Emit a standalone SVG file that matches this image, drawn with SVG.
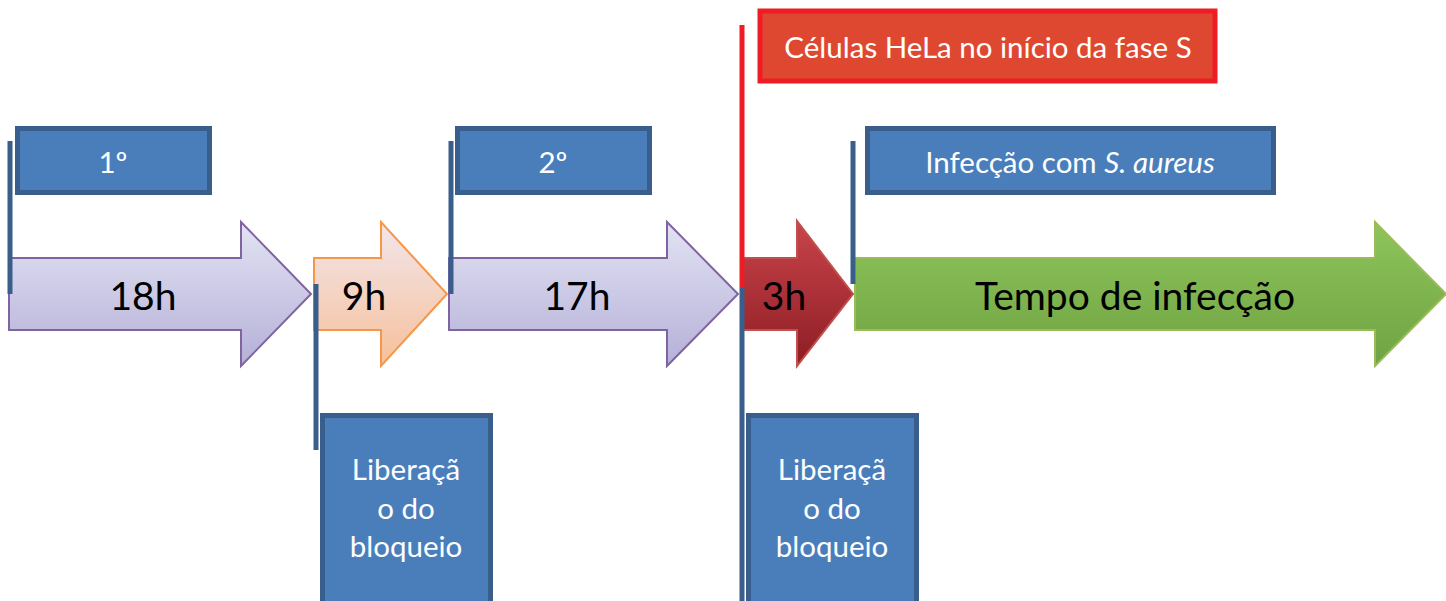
<svg xmlns="http://www.w3.org/2000/svg" width="1446" height="601" viewBox="0 0 1446 601">
<defs>
<linearGradient id="gPurple" x1="0" y1="0" x2="0" y2="1"><stop offset="0" stop-color="#e2e3f3"/><stop offset="1" stop-color="#b5b0d8"/></linearGradient>
<linearGradient id="gOrange" x1="0" y1="0" x2="0" y2="1"><stop offset="0" stop-color="#f2e6ec"/><stop offset="1" stop-color="#f6c09a"/></linearGradient>
<linearGradient id="gRed" x1="0" y1="0" x2="0" y2="1"><stop offset="0" stop-color="#c9444b"/><stop offset="1" stop-color="#8e1d24"/></linearGradient>
<linearGradient id="gGreen" x1="0" y1="0" x2="0" y2="1"><stop offset="0" stop-color="#8dc55a"/><stop offset="1" stop-color="#70a243"/></linearGradient>
</defs>
<style>
.box{fill:#4a7ebb;stroke:#3a5e8b;stroke-width:5}
.redbox{fill:#df4830;stroke:#ee1c25;stroke-width:5}
.t{font-family:Lato,"Open Sans",sans-serif;fill:#ffffff;font-size:29.5px;text-anchor:middle}
.big{font-family:Lato,"Open Sans",sans-serif;fill:#000000;font-size:39px;text-anchor:middle}
.vline{stroke:#3a5e8b;stroke-width:5;fill:none}
.rline{stroke:#ee1c25;stroke-width:5;fill:none}
</style>
<g id="arrows">
<g id="arrow-18h"><path d="M9,258 H241 V222 L311,294 L241,366 V330 H9 Z" fill="url(#gPurple)" stroke="#8064a2" stroke-width="2"/><text class="big" x="143" y="310">18h</text></g>
<g id="arrow-9h"><path d="M314,258 H381 V222 L447,294 L381,366 V330 H314 Z" fill="url(#gOrange)" stroke="#f79646" stroke-width="2"/><text class="big" x="364" y="310">9h</text></g>
<g id="arrow-17h"><path d="M449,258 H667 V222 L738,294 L667,366 V330 H449 Z" fill="url(#gPurple)" stroke="#8064a2" stroke-width="2"/><text class="big" x="577" y="310">17h</text></g>
<g id="arrow-3h"><path d="M742,258 H797 V221 L853,294 L797,366 V330 H742 Z" fill="url(#gRed)" stroke="#c0504d" stroke-width="2"/><text class="big" x="784" y="310">3h</text></g>
<g id="arrow-infeccao"><path d="M855,258 H1375 V222 L1446,294 L1375,366 V330 H855 Z" fill="url(#gGreen)" stroke="#9bbb59" stroke-width="2"/><text class="big" x="1135" y="310">Tempo de infecção</text></g>
</g>
<g id="connectors">
<line class="vline" x1="10" y1="141" x2="10" y2="294"/>
<line class="vline" x1="451" y1="141" x2="451" y2="294"/>
<line class="vline" x1="853" y1="141" x2="853" y2="284"/>
<line class="vline" x1="316" y1="284" x2="316" y2="450"/>
<line class="vline" x1="742" y1="288" x2="742" y2="601"/>
<line class="rline" x1="742" y1="25" x2="742" y2="288"/>
</g>
<g id="box-hela"><rect class="redbox" x="760" y="11" width="455" height="70"/><text class="t" x="988" y="58">Células HeLa no início da fase S</text></g>
<g id="box-1"><rect class="box" x="17.5" y="128.5" width="192" height="64"/><text class="t" x="113" y="173">1º</text></g>
<g id="box-2"><rect class="box" x="457.5" y="128.5" width="192" height="64"/><text class="t" x="553" y="173">2º</text></g>
<g id="box-infeccao"><rect class="box" x="867.5" y="128.5" width="406" height="64"/><text class="t" x="1070" y="173">Infecção com <tspan font-style="italic">S. aureus</tspan></text></g>
<g id="box-liberacao-1"><rect class="box" x="322.5" y="415.5" width="168" height="200"/><text class="t" x="406" y="480">Liberaçã</text><text class="t" x="406" y="519">o do</text><text class="t" x="406" y="557">bloqueio</text></g>
<g id="box-liberacao-2"><rect class="box" x="748.5" y="415.5" width="168" height="200"/><text class="t" x="832" y="480">Liberaçã</text><text class="t" x="832" y="519">o do</text><text class="t" x="832" y="557">bloqueio</text></g>
</svg>
